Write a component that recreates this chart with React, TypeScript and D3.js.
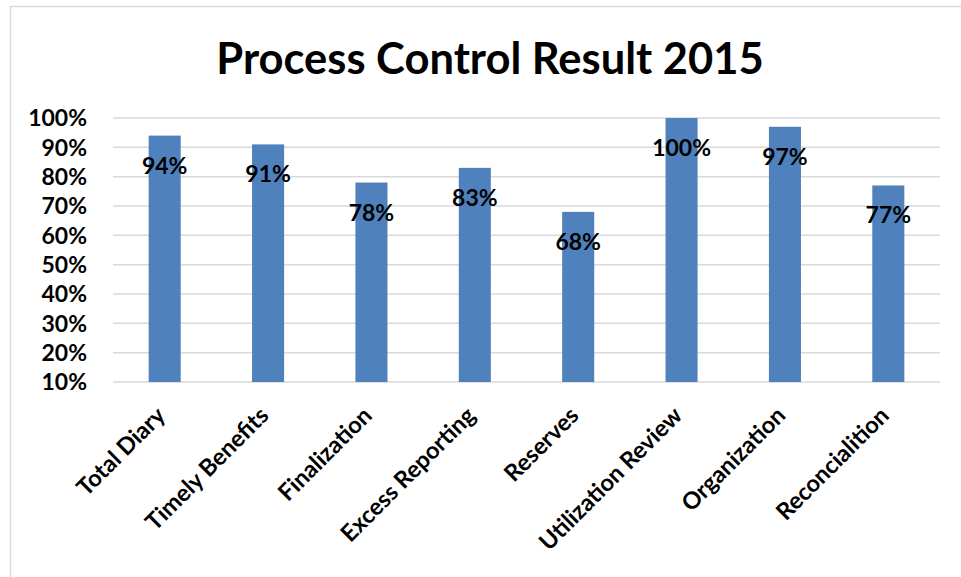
import React from "react";
import * as d3 from "d3";

const categories = [
  "Total Diary",
  "Timely Benefits",
  "Finalization",
  "Excess Reporting",
  "Reserves",
  "Utilization Review",
  "Organization",
  "Reconcialition",
];
const values = [0.94, 0.91, 0.78, 0.83, 0.68, 1.0, 0.97, 0.77];
const yTicks = [0.1, 0.2, 0.3, 0.4, 0.5, 0.6, 0.7, 0.8, 0.9, 1.0];
const title = "Process Control Result 2015";

const W = 961;
const H = 577;
const FONT = "Lato, 'Open Sans', sans-serif";

export default function App() {
  const x = d3
    .scaleBand<string>()
    .domain(categories)
    .range([113, 940])
    .paddingInner(0.69)
    .paddingOuter(0.345);
  const y = d3.scaleLinear().domain([0.1, 1.0]).range([382, 118]);
  const fmt = d3.format(".0%");

  return (
    <svg
      width={W}
      height={H}
      style={{ position: "absolute", left: 0, top: 0, background: "#fff" }}
    >
      <rect x={10.5} y={6.5} width={1000} height={700} fill="#fff" stroke="#d9d9d9" strokeWidth={1.5} />
      <text
        x={490}
        y={74}
        textAnchor="middle"
        fontFamily={FONT}
        fontWeight={700}
        fontSize={43.5}
        fill="#000"
      >
        {title}
      </text>
      {yTicks.map((t) => (
        <g key={t}>
          <line x1={113} x2={940} y1={y(t)} y2={y(t)} stroke="#d9d9d9" strokeWidth={1.5} />
          <text
            x={87}
            y={y(t)}
            dy="0.36em"
            textAnchor="end"
            fontFamily={FONT}
            fontWeight={700}
            fontSize={23}
            fill="#000"
          >
            {fmt(t)}
          </text>
        </g>
      ))}
      {categories.map((c, i) => {
        const bx = x(c)!;
        const bw = x.bandwidth();
        const cx = bx + bw / 2;
        return (
          <g key={c}>
            <rect x={bx} y={y(values[i])} width={bw} height={y(0.1) - y(values[i])} fill="#4f81bd" />
            <text
              x={cx}
              y={y(values[i]) + 38}
              textAnchor="middle"
              fontFamily={FONT}
              fontWeight={700}
              fontSize={23}
              fill="#000"
            >
              {fmt(values[i])}
            </text>
            <text
              transform={`translate(${cx + 2},${417}) rotate(-45)`}
              textAnchor="end"
              fontFamily={FONT}
              fontWeight={700}
              fontSize={23.5}
              fill="#000"
            >
              {c}
            </text>
          </g>
        );
      })}
    </svg>
  );
}
